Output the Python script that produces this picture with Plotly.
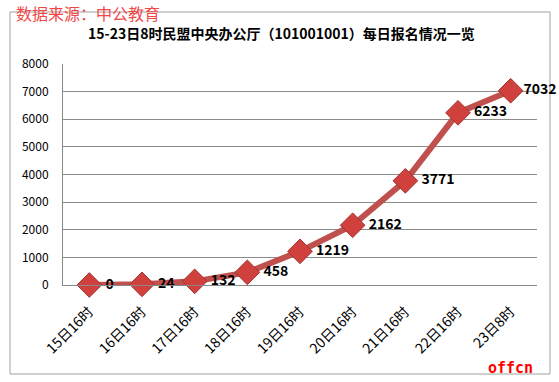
import plotly.graph_objects as go

categories = ["15日16时", "16日16时", "17日16时", "18日16时", "19日16时",
              "20日16时", "21日16时", "22日16时", "23日8时"]
values = [0, 24, 132, 458, 1219, 2162, 3771, 6233, 7032]
y_ticks = [0, 1000, 2000, 3000, 4000, 5000, 6000, 7000, 8000]

title_text = "15-23日8时民盟中央办公厅（101001001）每日报名情况一览"
source_text = "数据来源：中公教育"
brand_text = "offcn"

L, R, T, B = 63, 22, 64, 97
W, H = 559, 382
pw = W - L - R
ph = H - T - B

def px_x(p):
    return (p - L) / pw

def px_y(p):
    return (H - B - p) / ph

font_cjk = "Noto Sans CJK SC, Microsoft YaHei, sans-serif"

# label gap: wider for all points but the last (which sits near the edge)
labels = [("\u00a0" if i < len(values) - 1 else "") + str(v) for i, v in enumerate(values)]

fig = go.Figure()
fig.add_trace(go.Scatter(
    x=categories, y=values,
    mode="lines+markers+text",
    line=dict(color="#C0504D", width=6),
    marker=dict(symbol="diamond", size=19, color="#D0413E",
                line=dict(color="#A33532", width=1)),
    text=labels,
    textposition="middle right",
    textfont=dict(family=font_cjk, size=14, color="#000000", weight="bold"),
    cliponaxis=False,
    hoverinfo="x+y",
))

fig.update_layout(
    width=W, height=H,
    margin=dict(l=L, r=R, t=T, b=B),
    paper_bgcolor="white", plot_bgcolor="white",
    showlegend=False,
    font=dict(family=font_cjk, color="#000000"),
    xaxis=dict(
        type="category",
        tickangle=-45,
        tickfont=dict(size=14, family=font_cjk, color="#000000"),
        showgrid=False, showline=True, linecolor="#888888", linewidth=1,
        ticks="outside", ticklen=12, tickcolor="rgba(0,0,0,0)",
        range=[-0.5, 8.5], automargin=False,
    ),
    yaxis=dict(
        range=[0, 8000], tickvals=y_ticks,
        tickfont=dict(size=12, family=font_cjk, color="#000000"),
        showgrid=True, gridcolor="#8C8C8C", gridwidth=1,
        showline=True, linecolor="#888888", linewidth=1,
        zeroline=False, ticks="outside", ticklen=11, tickcolor="rgba(0,0,0,0)",
        automargin=False,
    ),
    shapes=[dict(type="rect", xref="paper", yref="paper",
                 x0=px_x(10), x1=px_x(550), y0=px_y(374), y1=px_y(12),
                 line=dict(color="#A0A0A0", width=1), layer="below")],
    annotations=[
        dict(text=title_text, xref="paper", yref="paper",
             x=px_x(281), y=px_y(33), showarrow=False,
             xanchor="center", yanchor="middle",
             font=dict(size=14, family=font_cjk, color="#000000", weight="bold")),
        dict(text=source_text, xref="paper", yref="paper",
             x=px_x(14), y=px_y(13), showarrow=False,
             xanchor="left", yanchor="middle",
             font=dict(size=16, family=font_cjk, color="#F04848")),
        dict(text=brand_text, xref="paper", yref="paper",
             x=px_x(535), y=px_y(368), showarrow=False,
             xanchor="right", yanchor="middle",
             font=dict(size=15, family="DejaVu Sans Mono, monospace", color="#FF0000", weight="bold")),
    ],
)

fig.write_html("out.html",
               config={"displayModeBar": False},
               post_script="document.body.style.margin='0';document.body.style.overflow='hidden';")
